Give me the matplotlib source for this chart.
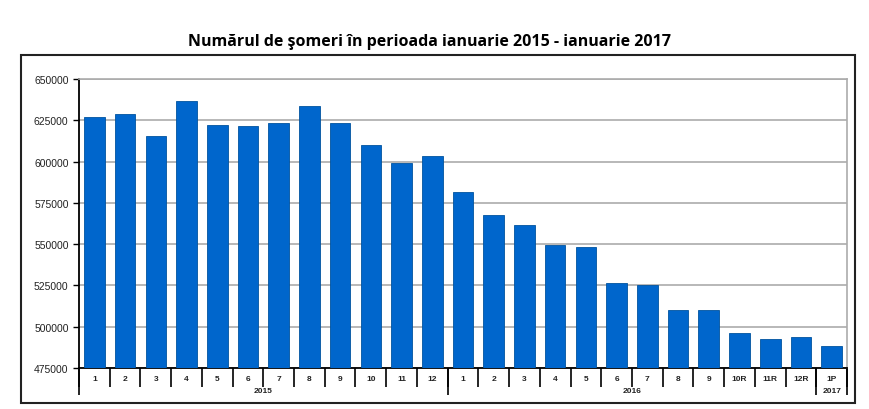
import matplotlib.pyplot as plt
import matplotlib.transforms as mtransforms
from matplotlib.patches import Rectangle

plt.rcParams['font.family'] = ['Liberation Sans', 'DejaVu Sans']

months = ['1', '2', '3', '4', '5', '6', '7', '8', '9', '10', '11', '12',
          '1', '2', '3', '4', '5', '6', '7', '8', '9', '10R', '11R', '12R',
          '1P']
years = ['2015', '2016', '2017']
year_sizes = [12, 12, 1]
someri = [626700, 629100, 615600, 636500, 622300, 621700, 623100, 633600,
          623100, 610200, 599200, 603600,
          581800, 567800, 561800, 549200, 548300, 526500, 525000, 510300,
          510300, 496000, 492400, 493800,
          488500]

fig = plt.figure(figsize=(8.7, 4.1), dpi=100)
ax = fig.add_axes([0.0908, 0.1, 0.8828, 0.7049])

x = list(range(len(someri)))
ax.bar(x, someri, width=0.67, color='#0066CC', edgecolor='#00539F',
       linewidth=0.6, zorder=3)

ax.set_ylim(475000, 650000)
ax.set_xlim(-0.5, len(someri) - 0.5)
ax.set_yticks(range(475000, 650001, 25000))
ax.tick_params(axis='y', labelsize=7.5, length=4, width=1, color='black')
for lab in ax.get_yticklabels():
    lab.set_color('#222222')
ax.yaxis.grid(True, color='#ABABAB', linewidth=1.2, zorder=0)

# month labels at centers, separator ticks between categories
ax.set_xticks(x)
ax.set_xticklabels(months, fontsize=6, fontweight='bold', color='#222222')
ax.tick_params(axis='x', which='major', length=0, pad=5)
ax.set_xticks([i - 0.5 for i in range(len(someri) + 1)], minor=True)
ax.tick_params(axis='x', which='minor', length=14, width=1.2, color='black')

for side in ['top', 'right']:
    ax.spines[side].set_color('#ABABAB')
    ax.spines[side].set_linewidth(1.2)
for side in ['left', 'bottom']:
    ax.spines[side].set_color('black')
    ax.spines[side].set_linewidth(1.3)

# year groups
trans = mtransforms.blended_transform_factory(ax.transData, ax.transAxes)
start = 0
bounds = [-0.5]
for yr, n in zip(years, year_sizes):
    mid = start + (n - 1) / 2
    ax.text(mid, -0.078, yr, transform=trans, ha='center', va='center',
            fontsize=6, fontweight='bold', color='#222222')
    start += n
    bounds.append(start - 0.5)
ax.vlines(bounds, -0.095, 0, transform=trans, colors='black',
          linewidth=1.2, clip_on=False)

fig.text(0.494, 0.897, 'Numărul de şomeri în perioada ianuarie 2015 - ianuarie 2017',
         ha='center', va='center', fontsize=11.5, fontweight='bold',
         family='Open Sans')

fig.patches.append(Rectangle((21 / 870, 6 / 410), 834 / 870, 348 / 410,
                             transform=fig.transFigure, fill=False,
                             edgecolor='#222222', linewidth=1.5))

fig.savefig('out.png', dpi=100)
